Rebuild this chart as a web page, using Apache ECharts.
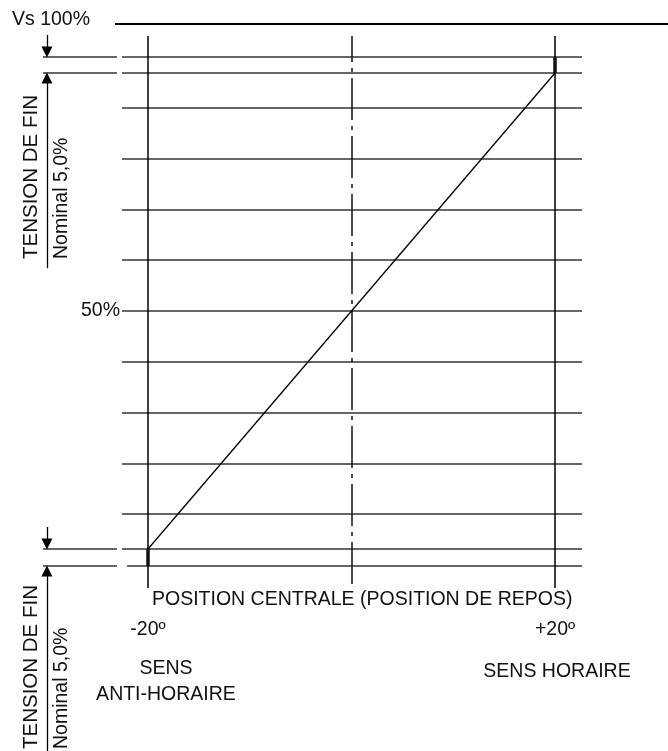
<!DOCTYPE html>
<html>
<head>
<meta charset="utf-8">
<script src="https://cdn.jsdelivr.net/npm/echarts@6/dist/echarts.min.js"></script>
<style>
html, body { margin: 0; padding: 0; background: #fff; }
#demo001 { width: 668px; height: 751px; }
</style>
</head>
<body>
<div id="demo001"></div>
<script>
// ============================= données ===============================

const positions = [-20, 0, 20];                 // angle (º) : anti-horaire, repos, horaire
const courbe = [[-20, 5], [20, 95]];             // tension de sortie (% Vs)
const niveaux = [11.6, 21.2, 30.8, 40.4, 50, 59.6, 69.2, 78.8, 88.4];  // lignes de la grille
const bandeHaut = [98, 95];                      // tension de fin, haut
const bandeBas = [5, 1.8];                       // tension de fin, bas
const vsMax = 104.3;                             // Vs 100%
const ticksX = [-20, 20];
const ticksY = [50];

// ============================= mise en page ===============================

const FONT = "'Liberation Sans', Arial, sans-serif";
const FS = 19.5;
const xG = -22.55, xG2 = -22.06, xD = 22.65;    // étendue des lignes horizontales
const xStubG = -30.32, xStubD = -23.05;         // petits traits à gauche
const xFleche = -29.93;
const yHautV = 102.0, yBasV = -2.37;            // étendue des verticales

function seg(x1, y1, x2, y2) {
    return { coords: [[x1, y1], [x2, y2]] };
}

let grille = niveaux.map(v => seg(xG, v, xD, v));
bandeHaut.forEach(v => {
    grille.push(seg(xStubG, v, xStubD, v));
    grille.push(seg(xG, v, xD, v));
});
grille.push(seg(xStubG, bandeBas[0], xStubD, bandeBas[0]));
grille.push(seg(xG, bandeBas[0], xD, bandeBas[0]));
grille.push(seg(xStubG, bandeBas[1], xStubD, bandeBas[1]));
grille.push(seg(xG2, bandeBas[1], xD, bandeBas[1]));

let verticales = [positions[0], positions[2]].map(p => seg(p, yHautV, p, yBasV));

let fleches = [
    seg(xFleche, 102.2, xFleche, bandeHaut[0] + 0.95),
    seg(xFleche, 58.1, xFleche, bandeHaut[1] - 0.95),
    seg(xFleche, 9.16, xFleche, bandeBas[0] + 0.95),
    seg(xFleche, -33.2, xFleche, bandeBas[1] - 0.95)
];

let option = {
    animation: false,
    backgroundColor: '#fff',
    grid: { left: 148, right: 113, top: 73, bottom: 202 },
    xAxis: {
        type: 'value', min: -20, max: 20,
        axisLine: { show: false }, axisTick: { show: false }, splitLine: { show: false },
        axisLabel: {
            customValues: ticksX, margin: 81, verticalAlign: 'middle',
            color: '#111', fontFamily: FONT, fontSize: FS,
            formatter: v => (v > 0 ? '+' : '') + v + 'º'
        }
    },
    yAxis: {
        type: 'value', min: 5, max: 95,
        axisLine: { show: false }, axisTick: { show: false }, splitLine: { show: false },
        axisLabel: {
            customValues: ticksY, margin: 28,
            color: '#111', fontFamily: FONT, fontSize: FS,
            formatter: '{value}%'
        }
    },
    series: [
        {
            type: 'lines', coordinateSystem: 'cartesian2d', clip: false, silent: true,
            lineStyle: { color: '#333', width: 1.5, opacity: 1 },
            data: grille
        },
        {
            type: 'lines', coordinateSystem: 'cartesian2d', clip: false, silent: true,
            lineStyle: { color: '#000', width: 2, opacity: 1 },
            data: [seg(-23.24, vsMax, 32, vsMax)]
        },
        {
            type: 'lines', coordinateSystem: 'cartesian2d', clip: false, silent: true,
            lineStyle: { color: '#000', width: 1.5, opacity: 1 },
            data: verticales
        },
        {
            type: 'lines', coordinateSystem: 'cartesian2d', clip: false, silent: true,
            lineStyle: { color: '#111', width: 1.5, opacity: 1, type: [42, 6, 4, 6], dashOffset: 16 },
            data: [seg(positions[1], yHautV, positions[1], yBasV)]
        },
        {
            type: 'lines', coordinateSystem: 'cartesian2d', clip: false, silent: true,
            lineStyle: { color: '#111', width: 3.5, opacity: 1 },
            data: [seg(positions[2], bandeHaut[0], positions[2], bandeHaut[1]),
                   seg(positions[0], bandeBas[0], positions[0], bandeBas[1])]
        },
        {
            type: 'lines', coordinateSystem: 'cartesian2d', clip: false, silent: true,
            symbol: ['none', 'triangle'], symbolSize: [6, 11],
            lineStyle: { color: '#000', width: 1.3, opacity: 1 },
            data: fleches
        },
        {
            name: 'tension', type: 'line', clip: false, silent: true,
            symbol: 'none',
            lineStyle: { color: '#000', width: 1.3 },
            data: courbe
        }
    ],
    graphic: [
        { type: 'text', x: 12, y: 19.5, style: { text: 'Vs 100%', font: FS + 'px ' + FONT, fill: '#111', verticalAlign: 'middle' } },
        { type: 'text', x: 152, y: 600, style: { text: 'POSITION CENTRALE (POSITION DE REPOS)', font: FS + 'px ' + FONT, fill: '#111', verticalAlign: 'middle' } },
        { type: 'text', x: 166, y: 682, style: { text: 'SENS\nANTI-HORAIRE', font: FS + 'px ' + FONT, fill: '#111', align: 'center', verticalAlign: 'middle', lineHeight: 26 } },
        { type: 'text', x: 557, y: 672, style: { text: 'SENS HORAIRE', font: FS + 'px ' + FONT, fill: '#111', align: 'center', verticalAlign: 'middle' } },
        { type: 'text', x: 31.5, y: 259, rotation: Math.PI / 2, style: { text: 'TENSION DE FIN', font: '20.5px ' + FONT, fill: '#111', verticalAlign: 'middle' } },
        { type: 'text', x: 61.5, y: 259, rotation: Math.PI / 2, style: { text: 'Nominal 5,0%', font: FS + 'px ' + FONT, fill: '#111', verticalAlign: 'middle' } },
        { type: 'text', x: 31.5, y: 749, rotation: Math.PI / 2, style: { text: 'TENSION DE FIN', font: '20.5px ' + FONT, fill: '#111', verticalAlign: 'middle' } },
        { type: 'text', x: 61.5, y: 749, rotation: Math.PI / 2, style: { text: 'Nominal 5,0%', font: FS + 'px ' + FONT, fill: '#111', verticalAlign: 'middle' } }
    ]
};

echarts.init(document.getElementById('demo001')).setOption(option);
</script>
</body>
</html>
